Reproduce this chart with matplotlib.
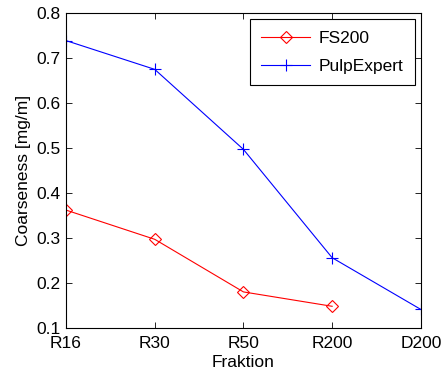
import numpy as np
import matplotlib.pyplot as plt

plt.rcParams['font.family'] = ['Liberation Sans', 'DejaVu Sans']
plt.rcParams['font.size'] = 12.5

fractions = ['R16', 'R30', 'R50', 'R200', 'D200']
fs200 = [0.362, 0.297, 0.180, 0.148]
pulpexpert = [0.739, 0.675, 0.497, 0.256, 0.141]

fig = plt.figure(figsize=(4.43, 3.76), dpi=100)
ax = fig.add_axes([0.149, 0.128, 0.801, 0.837])

x = np.arange(len(fractions))
ax.plot(x[:len(fs200)], fs200, color='red', lw=0.8, marker='D', ms=6,
        mfc='none', mec='red', mew=0.8, label='FS200')
ax.plot(x, pulpexpert, color='blue', lw=0.8, marker='+', ms=8,
        mew=0.8, label='PulpExpert')

ax.set_xlim(0, 4)
ax.set_ylim(0.1, 0.8)
ax.set_xticks(x)
ax.set_xticklabels(fractions)
ax.set_yticks(np.arange(0.1, 0.81, 0.1))
ax.set_yticklabels(['%.1f' % v for v in np.arange(0.1, 0.81, 0.1)])
ax.tick_params(direction='in', top=True, right=True, length=4, width=0.6)
ax.tick_params(axis='x', pad=6)
ax.tick_params(axis='y', pad=4)
for s in ax.spines.values():
    s.set_linewidth(0.8)

ax.set_xlabel('Fraktion', labelpad=3)
ax.set_ylabel('Coarseness [mg/m]', labelpad=4)

leg = ax.legend(loc='upper right', fancybox=False, edgecolor='black',
                framealpha=1, handlelength=2.8, handletextpad=0.5,
                borderaxespad=0.35, labelspacing=0.75, borderpad=0.65)
leg.get_frame().set_linewidth(0.8)

fig.savefig('out.png', dpi=100)
